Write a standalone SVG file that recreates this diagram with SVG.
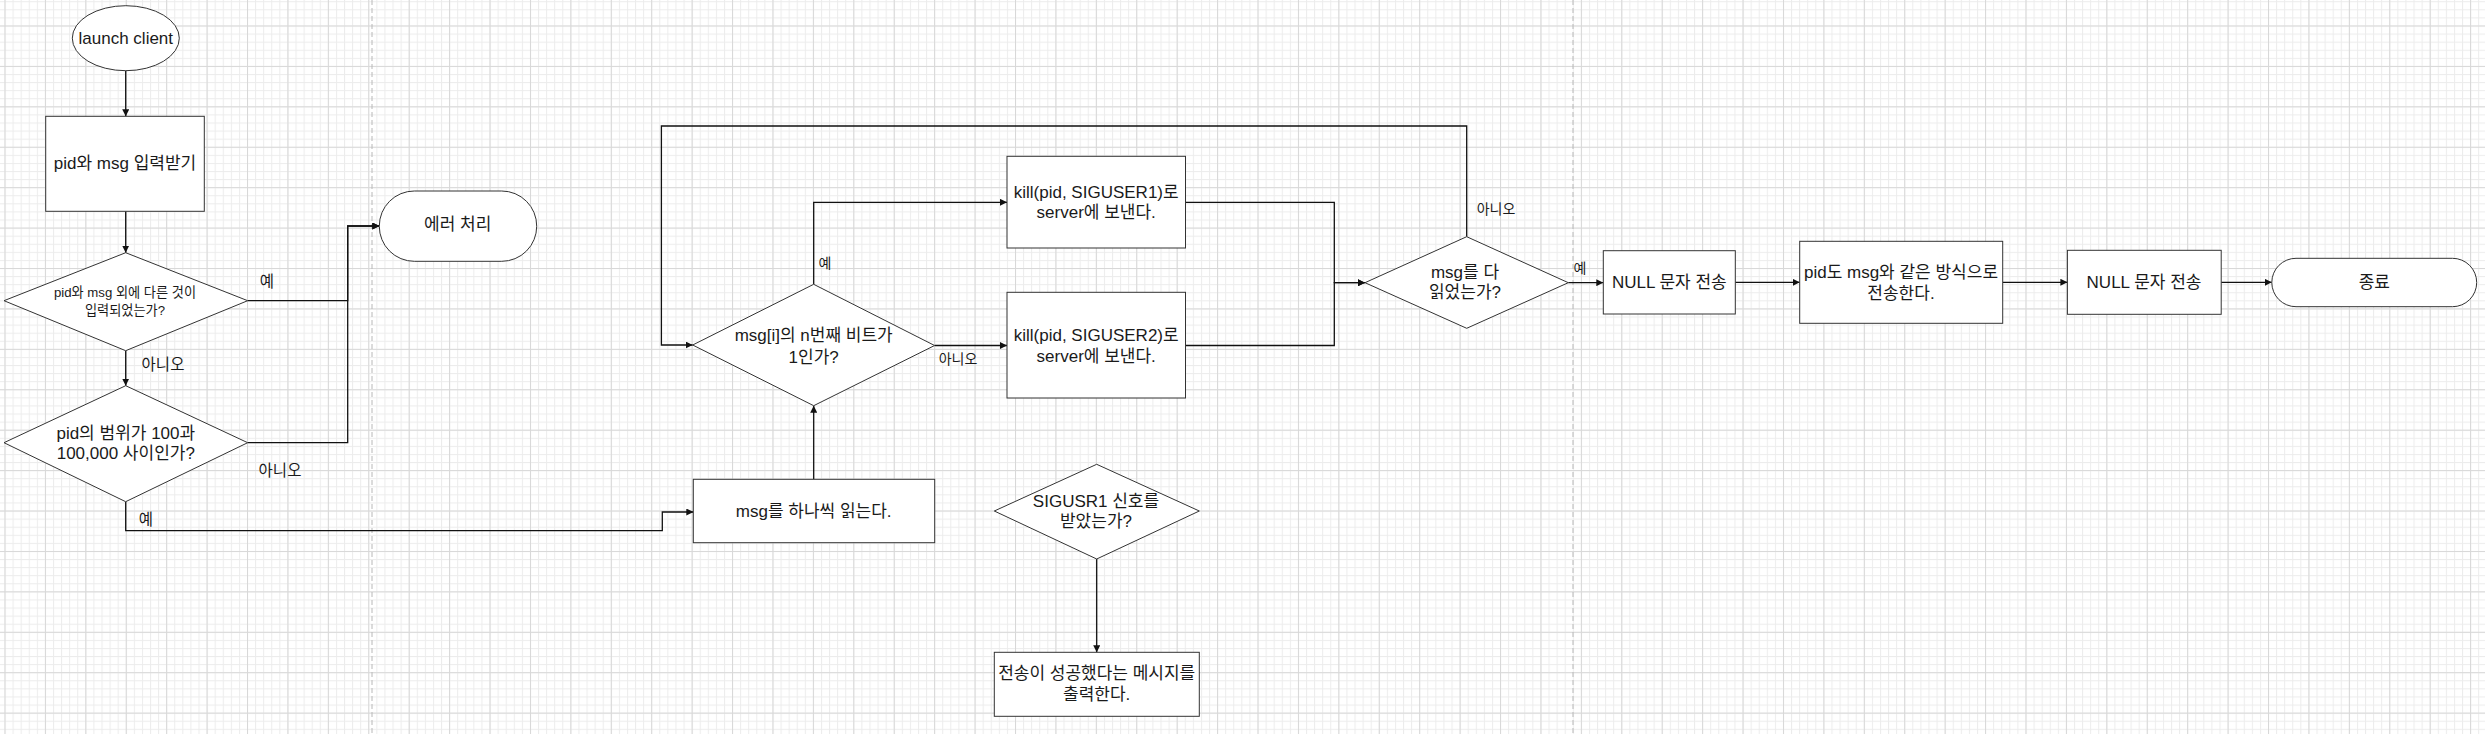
<svg xmlns="http://www.w3.org/2000/svg" width="2485" height="734" viewBox="0 0 2485 734">
<style>
text{font-family:"Liberation Sans","Noto Sans CJK KR",sans-serif;fill:#1a1a1a;text-anchor:middle}
.t{font-size:17px}
.s{font-size:13.2px}
.lbl{font-size:15.5px}
.lbs{font-size:14px}
.shape{fill:#fff;stroke:#333;stroke-width:1}
.conn path{fill:none;stroke:#111;stroke-width:1.3;marker-end:url(#arr)}
.sep{stroke:#b8b8b8;stroke-width:1;stroke-dasharray:5 3}
</style>
<defs>
<pattern id="minor" width="8.084" height="8.084" patternUnits="userSpaceOnUse" x="4.5" y="25.5">
<rect width="8.084" height="1" fill="#ececec"/><rect width="1" height="8.084" fill="#ececec"/>
</pattern>
<pattern id="major" width="40.42" height="40.42" patternUnits="userSpaceOnUse" x="4.5" y="25.5">
<rect width="40.42" height="1" fill="#d8d8d8"/><rect width="1" height="40.42" fill="#d8d8d8"/>
</pattern>
<marker id="arr" viewBox="0 0 10 10" refX="10" refY="5" markerWidth="7" markerHeight="7" markerUnits="userSpaceOnUse" orient="auto">
<path d="M0 0 L10 5 L0 10 z" fill="#111"/>
</marker>
</defs>
<rect width="2485" height="734" fill="#fff"/>
<rect width="2485" height="734" fill="url(#minor)"/>
<rect width="2485" height="734" fill="url(#major)"/>
<line class="sep" x1="372" y1="0" x2="372" y2="734"/>
<line class="sep" x1="1573" y1="0" x2="1573" y2="734"/>

<g id="connectors" class="conn">
<path d="M125.7 70.7 V116.3"/>
<path d="M125.7 211.3 V252.7"/>
<path d="M247.7 300.7 H347.7 V226 H379.3"/>
<path d="M125.7 350.7 V385.7"/>
<path d="M247.7 442.7 H347.7 V226 H379.3"/>
<path d="M125.7 501.7 V530.7 H662.3 V512 H693.3"/>
<path d="M813.7 479.3 V405.7"/>
<path d="M813.7 284.3 V202.3 H1007"/>
<path d="M934.6 345.5 H1007"/>
<path d="M1185.5 202.3 H1334.3 V282.7 H1365"/>
<path d="M1185.5 345.5 H1334.3 V282.7 H1365"/>
<path d="M1466.7 236.7 V126 H661.4 V345 H692.7"/>
<path d="M1568.3 282.7 H1603.3"/>
<path d="M1735.3 282.3 H1799.7"/>
<path d="M2002.7 282.3 H2067.4"/>
<path d="M2221.2 282.3 H2271.8"/>
<path d="M1096.7 559 V652.3"/>
<text class="lbl" x="267" y="287">예</text>
<text class="lbl" x="163" y="370">아니오</text>
<text class="lbl" x="280" y="476">아니오</text>
<text class="lbl" x="146" y="525">예</text>
<text class="lbs" x="825" y="268">예</text>
<text class="lbs" x="958" y="364">아니오</text>
<text class="lbs" x="1496" y="214">아니오</text>
<text class="lbs" x="1580" y="273">예</text>
</g>

<g id="launch">
<ellipse class="shape" cx="125.8" cy="38.2" rx="53.5" ry="32.5"/>
<text class="t" x="125.8" y="44">launch client</text>
</g>
<g id="input">
<rect class="shape" x="45.7" y="116.3" width="158.6" height="95"/>
<text class="t" x="125" y="169">pid와 msg 입력받기</text>
</g>
<g id="check-extra">
<polygon class="shape" points="125.7,252.7 247.7,300.7 125.7,350.7 4,300.7"/>
<text class="s" x="125" y="297">pid와 msg 외에 다른 것이</text>
<text class="s" x="125" y="314.5">입력되었는가?</text>
</g>
<g id="check-range">
<polygon class="shape" points="125.7,385.7 247.7,442.7 125.7,501.7 4,442.7"/>
<text class="t" x="125.8" y="438.5">pid의 범위가 100과</text>
<text class="t" x="125.8" y="459">100,000 사이인가?</text>
</g>
<g id="error">
<rect class="shape" x="379.3" y="191" width="157.4" height="70.3" rx="35" ry="35"/>
<text class="t" x="457.7" y="230">에러 처리</text>
</g>
<g id="read">
<rect class="shape" x="693.3" y="479.3" width="241.4" height="63.4"/>
<text class="t" x="813.7" y="517">msg를 하나씩 읽는다.</text>
</g>
<g id="bit">
<polygon class="shape" points="813.7,284.3 934.6,345.5 813.7,405.7 692.7,345"/>
<text class="t" x="813.7" y="341">msg[i]의 n번째 비트가</text>
<text class="t" x="813.7" y="362.5">1인가?</text>
</g>
<g id="send1">
<rect class="shape" x="1007" y="156.3" width="178.5" height="91.7"/>
<text class="t" x="1096.2" y="197.5">kill(pid, SIGUSER1)로</text>
<text class="t" x="1096.2" y="218">server에 보낸다.</text>
</g>
<g id="send2">
<rect class="shape" x="1007" y="292.3" width="178.5" height="105.7"/>
<text class="t" x="1096.2" y="341">kill(pid, SIGUSER2)로</text>
<text class="t" x="1096.2" y="361.5">server에 보낸다.</text>
</g>
<g id="done">
<polygon class="shape" points="1466.7,236.7 1568.3,282.7 1466.7,328.3 1365,282.7"/>
<text class="t" x="1465" y="277.5">msg를 다</text>
<text class="t" x="1465" y="297.5">읽었는가?</text>
</g>
<g id="null1">
<rect class="shape" x="1603.3" y="250.7" width="132" height="63.3"/>
<text class="t" x="1669.3" y="287.5">NULL 문자 전송</text>
</g>
<g id="sendpid">
<rect class="shape" x="1799.7" y="241.3" width="203" height="82"/>
<text class="t" x="1901" y="277.5">pid도 msg와 같은 방식으로</text>
<text class="t" x="1901" y="298.5">전송한다.</text>
</g>
<g id="null2">
<rect class="shape" x="2067.4" y="250.3" width="153.8" height="64"/>
<text class="t" x="2144" y="287.5">NULL 문자 전송</text>
</g>
<g id="end">
<rect class="shape" x="2271.8" y="258.3" width="204.9" height="48.4" rx="24.2" ry="24.2"/>
<text class="t" x="2374.3" y="288">종료</text>
</g>
<g id="sigusr">
<polygon class="shape" points="1096.7,464.3 1199.3,511 1096.7,559 994.3,511"/>
<text class="t" x="1096" y="507">SIGUSR1 신호를</text>
<text class="t" x="1096" y="527">받았는가?</text>
</g>
<g id="print">
<rect class="shape" x="994.3" y="652.3" width="205" height="64"/>
<text class="t" x="1096.7" y="678.5">전송이 성공했다는 메시지를</text>
<text class="t" x="1096.7" y="700">출력한다.</text>
</g>
</svg>
